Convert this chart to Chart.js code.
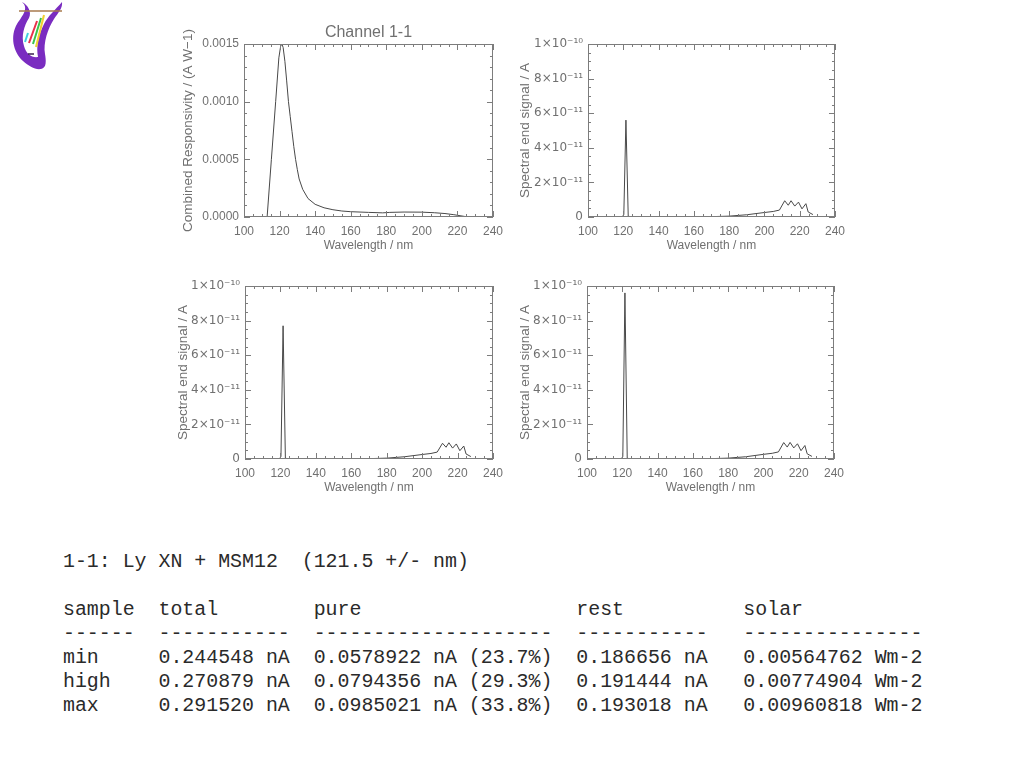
<!DOCTYPE html>
<html>
<head>
<meta charset="utf-8">
<title>Channel 1-1</title>
<script src="https://cdn.jsdelivr.net/npm/chart.js@4.4.1/dist/chart.umd.min.js"></script>
<style>
  body { margin: 0; background: #fff; width: 1024px; height: 768px; position: relative; overflow: hidden; }
  canvas { position: absolute; }
  #c1 { left: 170px; top: 20px; }
  #c2 { left: 514px; top: 20px; }
  #c3 { left: 171px; top: 262px; }
  #c4 { left: 513px; top: 262px; }
  .logo { position: absolute; left: 0; top: 0; }
  pre {
    position: absolute; left: 63px; top: 550px; margin: 0;
    font: 19.9px/24px "Courier New", "Liberation Mono", monospace; color: #2a2a2a;
  }
</style>
</head>
<body>

<svg class="logo" width="70" height="72" viewBox="0 0 70 72">
  <path d="M22 2 C29 8 23 15 17 24 C10 36 13 52 23 61 C29 66 35 70 41 69 C47 68 46 60 45 54
           C43 43 48 28 54 19 C58 13 63 8 62 2 C56 9 48 16 44 24 C38 36 36 47 38 57
           C32 58 26 54 24 46 C21 36 24 26 29 18 C32 12 28 5 22 2 Z" fill="#7a2cc0"/>
  <line x1="19" y1="11" x2="62" y2="11" stroke="#a77a4e" stroke-width="1.5"/>
  <line x1="25" y1="42" x2="28" y2="33" stroke="#3fd0e0" stroke-width="2"/>
  <line x1="29" y1="43" x2="37" y2="21" stroke="#e8304a" stroke-width="2"/>
  <line x1="33" y1="44" x2="41" y2="18" stroke="#39c24a" stroke-width="2"/>
  <line x1="36" y1="47" x2="44" y2="15" stroke="#f0d030" stroke-width="2"/>
  <line x1="28" y1="54" x2="34" y2="54" stroke="#3a2050" stroke-width="1.5"/>
</svg>

<canvas id="c1" width="340" height="245"></canvas>
<canvas id="c2" width="338" height="245"></canvas>
<canvas id="c3" width="339" height="245"></canvas>
<canvas id="c4" width="338" height="245"></canvas>

<pre>1-1: Ly XN + MSM12  (121.5 +/- nm)

sample  total        pure                  rest          solar
------  -----------  --------------------  -----------   ---------------
min     0.244548 nA  0.0578922 nA (23.7%)  0.186656 nA   0.00564762 Wm-2
high    0.270879 nA  0.0794356 nA (29.3%)  0.191444 nA   0.00774904 Wm-2
max     0.291520 nA  0.0985021 nA (33.8%)  0.193018 nA   0.00960818 Wm-2</pre>

<script>
// axis ticks
const xTicks = [100, 120, 140, 160, 180, 200, 220, 240];
const respTicks = [0, 0.0005, 0.0010, 0.0015];
const respTickLabels = ['0.0000', '0.0005', '0.0010', '0.0015'];
const sigTicks = [0, 2e-11, 4e-11, 6e-11, 8e-11, 1e-10];
const sigTickLabels = ['0', '2×10⁻¹¹', '4×10⁻¹¹', '6×10⁻¹¹', '8×10⁻¹¹', '1×10⁻¹⁰'];

// combined responsivity (A W-1) vs wavelength (nm)
const respWl = [113, 115.4, 117.8, 119.6, 120.6, 121.3, 122, 123, 124, 125, 126, 127, 128, 129, 130,
  131, 133, 136, 140, 145, 150, 155, 160, 170, 178, 182, 190, 200, 207, 213, 218, 222, 226];
const respVal = [0, 0.0005, 0.0010, 0.00138, 0.00148, 0.0015, 0.00147, 0.00135, 0.00118, 0.00100,
  0.00087, 0.00074, 0.00061, 0.00050, 0.00041, 0.00033, 0.00024, 0.00016, 0.00011, 0.00008,
  0.000063, 0.000052, 0.000046, 0.00004, 0.000036, 0.00004, 0.000043, 0.000042, 0.000037,
  0.00003, 0.00002, 0.00001, 0];

// spectral end signal (A) for min / high / max solar cases
const sigWl = [110, 119.5, 120.3, 121.5, 122.8, 125, 150, 170, 180, 190, 200, 205, 208.5,
  211.5, 213.5, 215.1, 217.2, 219.3, 221.3, 223.5, 224.8, 227.5];
const sigMin = [0, 0.1e-12, 1.5e-12, 56e-12, 0.4e-12, 0.1e-12, 0.05e-12, 0.2e-12, 0.5e-12, 1.3e-12,
  2.6e-12, 3.2e-12, 4.0e-12, 9.4e-12, 6.8e-12, 9.4e-12, 6.3e-12, 8.6e-12, 4.7e-12, 7.7e-12, 2.9e-12, 1.4e-12];
const sigHigh = [0, 0.1e-12, 1.5e-12, 77e-12, 0.4e-12, 0.1e-12, 0.05e-12, 0.2e-12, 0.5e-12, 1.3e-12,
  2.6e-12, 3.2e-12, 4.0e-12, 9.1e-12, 6.8e-12, 9.4e-12, 6.3e-12, 8.7e-12, 4.8e-12, 7.5e-12, 2.9e-12, 1.4e-12];
const sigMax = [0, 0.1e-12, 1.5e-12, 96e-12, 0.4e-12, 0.1e-12, 0.05e-12, 0.2e-12, 0.5e-12, 1.3e-12,
  2.7e-12, 3.3e-12, 4.1e-12, 9.5e-12, 6.9e-12, 9.6e-12, 6.4e-12, 8.8e-12, 4.8e-12, 7.8e-12, 3.0e-12, 1.5e-12];

const FONT = '"Liberation Sans", Arial, sans-serif';
const SIGFONT = '"DejaVu Sans", sans-serif';
const TXT = '#707070';
const BOX = '#7c7c7c';
const LINE = '#484848';

// IDL style frame: box on all four sides with inward major/minor ticks
const boxTicks = {
  id: 'boxTicks',
  afterDatasetsDraw(chart, args, opts) {
    const {ctx, chartArea: a, scales: {x, y}} = chart;
    ctx.save();
    ctx.strokeStyle = BOX;
    ctx.lineWidth = 1;
    ctx.strokeRect(a.left + 0.5, a.top + 0.5, a.right - a.left - 1, a.bottom - a.top - 1);
    ctx.beginPath();
    const nx = Math.round((x.max - x.min) / opts.xMinor);
    for (let i = 0; i <= nx; i++) {
      const px = Math.round(x.getPixelForValue(x.min + i * opts.xMinor)) + 0.5;
      const len = i % opts.xEvery === 0 ? 6 : 3;
      ctx.moveTo(px, a.bottom); ctx.lineTo(px, a.bottom - len);
      ctx.moveTo(px, a.top); ctx.lineTo(px, a.top + len);
    }
    const ny = Math.round((y.max - y.min) / opts.yMinor);
    for (let i = 0; i <= ny; i++) {
      const py = Math.round(y.getPixelForValue(y.min + i * opts.yMinor)) + 0.5;
      const len = i % opts.yEvery === 0 ? 6 : 3;
      ctx.moveTo(a.left, py); ctx.lineTo(a.left + len, py);
      ctx.moveTo(a.right, py); ctx.lineTo(a.right - len, py);
    }
    ctx.stroke();
    ctx.restore();
  }
};

function makeChart(id, wl, vals, yTicks, yLabels, yFont, yTitle, yTitlePad, yMinor, yEvery, title) {
  const pts = wl.map((w, i) => ({x: w, y: vals[i]}));
  return new Chart(document.getElementById(id), {
    type: 'line',
    data: {
      datasets: [{
        data: pts,
        borderColor: LINE,
        borderWidth: 1,
        pointRadius: 0,
        tension: 0,
        fill: false
      }]
    },
    options: {
      responsive: false,
      animation: false,
      events: [],
      layout: { padding: { top: title ? 0 : 24, right: 15, left: 0, bottom: 0 } },
      plugins: {
        legend: { display: false },
        tooltip: { enabled: false },
        title: {
          display: !!title,
          fullSize: false,
          text: title || '',
          color: TXT,
          font: { family: FONT, size: 16, weight: 'normal', lineHeight: 1.125 },
          padding: { top: 4, bottom: 2 }
        },
        boxTicks: { xMinor: 5, xEvery: 4, yMinor: yMinor, yEvery: yEvery }
      },
      scales: {
        x: {
          type: 'linear',
          min: 100,
          max: 240,
          afterBuildTicks: s => { s.ticks = xTicks.map(v => ({value: v})); },
          afterFit: s => { s.height = 48; },
          grid: { display: false, drawTicks: false },
          border: { display: false },
          ticks: { color: TXT, font: { family: FONT, size: 12 }, padding: 7, maxRotation: 0, autoSkip: false },
          title: {
            display: true,
            text: 'Wavelength / nm',
            color: TXT,
            font: { family: FONT, size: 12 },
            padding: { top: 0, bottom: 12 }
          }
        },
        y: {
          type: 'linear',
          min: yTicks[0],
          max: yTicks[yTicks.length - 1],
          afterBuildTicks: s => { s.ticks = yTicks.map(v => ({value: v})); },
          afterFit: s => { s.width = 74; },
          grid: { display: false, drawTicks: false },
          border: { display: false },
          ticks: { color: TXT, font: { family: yFont, size: 12 }, padding: 5, callback: (v, i) => yLabels[i] },
          title: {
            display: true,
            text: yTitle,
            color: TXT,
            font: { family: FONT, size: 13.5 },
            padding: { top: yTitlePad, bottom: 0 }
          }
        }
      }
    },
    plugins: [boxTicks]
  });
}

const sigTitle = 'Spectral end signal / A';
makeChart('c1', respWl, respVal, respTicks, respTickLabels, FONT, 'Combined Responsivity / (A W−1)', 10, 0.0001, 5, 'Channel 1-1');
makeChart('c2', sigWl, sigMin, sigTicks, sigTickLabels, SIGFONT, sigTitle, 3, 5e-12, 4);
makeChart('c3', sigWl, sigHigh, sigTicks, sigTickLabels, SIGFONT, sigTitle, 4, 5e-12, 4);
makeChart('c4', sigWl, sigMax, sigTicks, sigTickLabels, SIGFONT, sigTitle, 4, 5e-12, 4);
</script>
</body>
</html>
